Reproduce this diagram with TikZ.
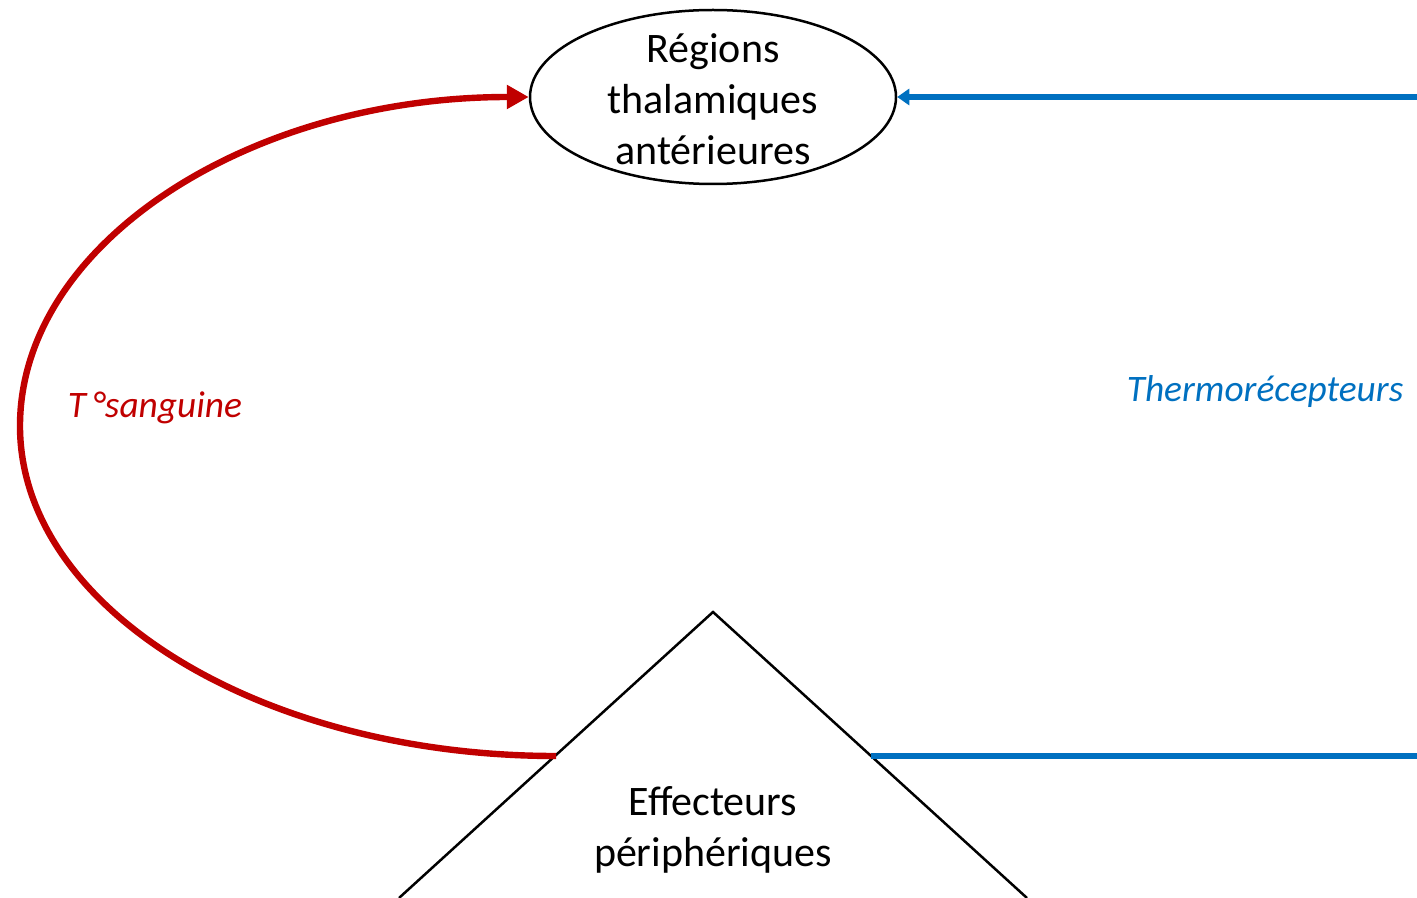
\documentclass[tikz,border=0pt]{standalone}
\usepackage{fontspec}
\setmainfont{Carlito}
\usetikzlibrary{arrows.meta,shapes.geometric}
\definecolor{myred}{RGB}{192,0,0}
\definecolor{myblue}{RGB}{0,112,192}
\tikzset{
  mainfont/.style={font=\fontsize{21}{25.5}\selectfont, align=center},
  lblfont/.style={font=\fontsize{18.7}{22}\selectfont\itshape},
  redlink/.style={draw=myred, line width=3.2pt, -{Triangle[length=11pt,width=11.5pt]}},
  bluelink/.style={draw=myblue, line width=2.6pt},
  bluearrow/.style={bluelink, -{Triangle[length=6pt,width=8pt]}},
  outline/.style={draw=black, line width=1.25pt}
}
\begin{document}
\begin{tikzpicture}[x=0.5pt,y=-0.5pt]
\useasboundingbox (0,0) rectangle (1417,898);
\node[ellipse, outline, minimum width=183pt, minimum height=87pt, inner sep=0pt] (thal) at (713,97) {};
\node[mainfont, inner sep=0pt] (thaltxt) at (713,99) {Régions\\thalamiques\\antérieures};
\coordinate (apex) at (713,612);
\coordinate (bl) at (399,898);
\coordinate (br) at (1027,898);
\draw[outline, line join=miter] (bl) -- (apex) -- (br);
\node[mainfont, inner sep=0pt] (eff) at (713,830) {Effecteurs\\périphériques};
\coordinate (effL) at (556,756);
\coordinate (effR) at (871,756);
\coordinate (inE) at (1417,97);
\coordinate (outE) at (1417,756);
\draw[redlink] (effL) .. controls (260,756) and (20,608) .. (20,426) .. controls (20,244) and (248,97) .. (thal.west);
\draw[bluearrow] (inE) -- (thal.east);
\draw[bluelink] (effR) -- (outE);
\node[lblfont, text=myred, inner sep=0pt] (tsang) at (155,408) {T\,°sanguine};
\node[lblfont, text=myblue, inner sep=0pt] (thermo) at (1265,392) {Thermorécepteurs};
\end{tikzpicture}
\end{document}
